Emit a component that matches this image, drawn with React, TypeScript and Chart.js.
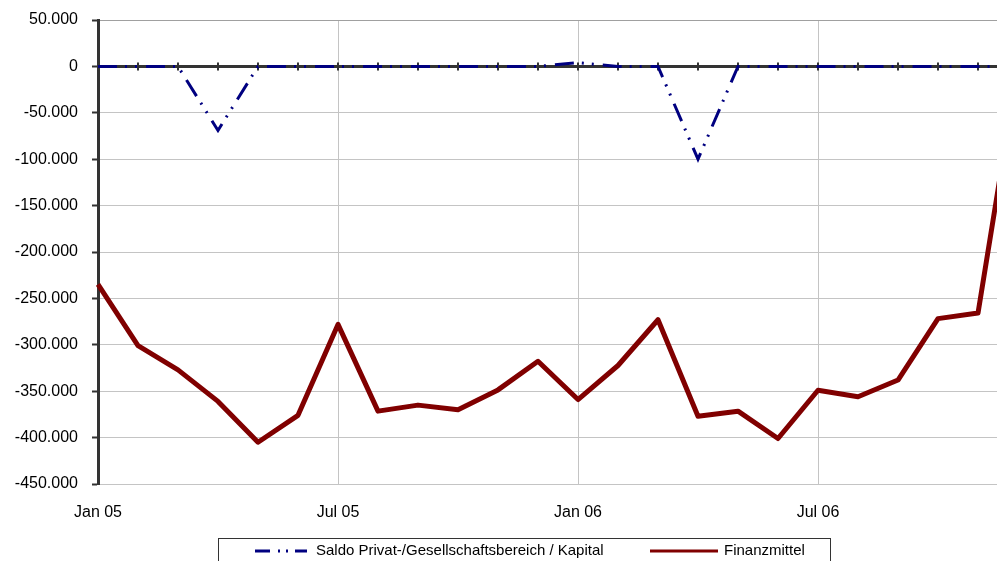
import React, { useEffect, useRef } from "react";
import { Chart, registerables } from "chart.js";

Chart.register(...registerables);

const months = [
  "Jan 05", "Feb 05", "Mar 05", "Apr 05", "May 05", "Jun 05",
  "Jul 05", "Aug 05", "Sep 05", "Oct 05", "Nov 05", "Dec 05",
  "Jan 06", "Feb 06", "Mar 06", "Apr 06", "May 06", "Jun 06",
  "Jul 06", "Aug 06", "Sep 06", "Oct 06", "Nov 06", "Dec 06",
];

const seriesNames = ["Saldo Privat-/Gesellschaftsbereich / Kapital", "Finanzmittel"];

const saldoValues = [
  0, 0, 0, -69000, 0, 0,
  0, 0, 0, 0, 0, 0,
  4000, 0, 0, -100000, 0, 0,
  0, 0, 0, 0, 0, 0,
];

const finanzmittelValues = [
  -235000, -301000, -327000, -361000, -405000, -376000,
  -278000, -371500, -365000, -370000, -348600, -317700,
  -359000, -322300, -273000, -377000, -371500, -401000,
  -349000, -356000, -338000, -271800, -265800, 0,
];

const yMin = -450000;
const yMax = 50000;
const yStep = 50000;

const FONT = "'Liberation Sans', Arial, sans-serif";

const fmt = (v: number) => {
  const s = Math.abs(v).toString().replace(/\B(?=(\d{3})+(?!\d))/g, ".");
  return (v < 0 ? "-" : "") + s;
};

const zeroTicksPlugin = {
  id: "zeroTicks",
  beforeDatasetsDraw(chart: any) {
    const { ctx } = chart;
    const xs = chart.scales.x;
    const ys = chart.scales.y;
    const y0 = ys.getPixelForValue(0);
    ctx.save();
    ctx.strokeStyle = "#333333";
    ctx.lineWidth = 2;
    ctx.beginPath();
    months.forEach((_, i) => {
      const x = Math.round(xs.getPixelForValue(i));
      ctx.moveTo(x, y0 - 4);
      ctx.lineTo(x, y0 + 4);
    });
    ctx.stroke();
    ctx.restore();
  },
};

const legendPlugin = {
  id: "boxLegend",
  afterDraw(chart: any) {
    const { ctx } = chart;
    const cx = chart.width / 2;
    const top = chart.chartArea.bottom + 54;
    const midY = top + 13;
    ctx.save();
    ctx.strokeStyle = "#333333";
    ctx.lineWidth = 1;
    ctx.strokeRect(Math.round(cx - 306) + 0.5, Math.round(top) + 0.5, 612, 40);

    // blue sample
    ctx.strokeStyle = "#000080";
    ctx.lineWidth = 3;
    ctx.setLineDash([15, 8, 2, 6, 2, 7, 15, 100]);
    ctx.beginPath();
    ctx.moveTo(cx - 269, midY);
    ctx.lineTo(cx - 217, midY);
    ctx.stroke();
    ctx.setLineDash([]);

    // red sample
    ctx.strokeStyle = "#800000";
    ctx.lineWidth = 3;
    ctx.beginPath();
    ctx.moveTo(cx + 126, midY);
    ctx.lineTo(cx + 194, midY);
    ctx.stroke();

    ctx.fillStyle = "#000000";
    ctx.font = `15px ${FONT}`;
    ctx.textBaseline = "middle";
    ctx.textAlign = "left";
    ctx.fillText(seriesNames[0], cx - 208, midY);
    ctx.fillText(seriesNames[1], cx + 200, midY);
    ctx.restore();
  },
};

export default function App() {
  const ref = useRef<HTMLCanvasElement | null>(null);

  useEffect(() => {
    if (!ref.current) return;
    const chart = new Chart(ref.current, {
      type: "line",
      data: {
        labels: months,
        datasets: [
          {
            label: seriesNames[0],
            data: saldoValues,
            borderColor: "#000080",
            backgroundColor: "#000080",
            borderWidth: 3,
            borderDash: [19, 8, 2, 8, 2, 9],
            pointRadius: 0,
            tension: 0,
            fill: false,
          },
          {
            label: seriesNames[1],
            data: finanzmittelValues,
            borderColor: "#800000",
            backgroundColor: "#800000",
            borderWidth: 5,
            borderJoinStyle: "round",
            pointRadius: 0,
            tension: 0,
            fill: false,
          },
        ],
      },
      options: {
        responsive: false,
        animation: false,
        layout: { padding: { left: 0, right: 30, top: 20, bottom: 66 } },
        plugins: {
          legend: { display: false },
          tooltip: { enabled: false },
          title: { display: false },
        },
        scales: {
          x: {
            type: "category",
            ticks: {
              autoSkip: false,
              maxRotation: 0,
              minRotation: 0,
              padding: 19,
              color: "#000000",
              font: { family: FONT, size: 16 },
              callback: (_v: any, i: number) => (i % 6 === 0 ? months[i] : ""),
            },
            grid: {
              color: (c: any) => (c.index % 6 === 0 ? "#c4c4c4" : "rgba(0,0,0,0)"),
              lineWidth: 1,
              drawTicks: false,
            },
            border: { display: false },
            afterFit: (s: any) => {
              s.height = 40;
              s.paddingLeft = 0;
              s.paddingRight = 0;
            },
          },
          y: {
            min: yMin,
            max: yMax,
            ticks: {
              stepSize: yStep,
              padding: 14,
              color: "#000000",
              font: { family: FONT, size: 16 },
              callback: (v: any) => fmt(Number(v)),
            },
            grid: {
              color: (c: any) =>
                c.tick && c.tick.value === 0
                  ? "#333333"
                  : c.tick && c.tick.value === yMax
                  ? "#a0a0a0"
                  : "#c4c4c4",
              lineWidth: (c: any) => (c.tick && c.tick.value === 0 ? 3 : 1),
              drawTicks: true,
              tickLength: 6,
              tickColor: "#333333",
              tickWidth: 2,
            },
            border: { display: true, color: "#333333", width: 3 },
            afterFit: (s: any) => {
              s.width = 98;
              s.paddingTop = 0;
              s.paddingBottom = 0;
            },
          },
        },
      },
      plugins: [zeroTicksPlugin, legendPlugin],
    } as any);
    return () => chart.destroy();
  }, []);

  return (
    <div
      style={{
        position: "absolute",
        left: 0,
        top: 0,
        width: 997,
        height: 561,
        overflow: "hidden",
        background: "#ffffff",
      }}
    >
      <canvas ref={ref} width={1048} height={590} style={{ display: "block" }} />
    </div>
  );
}
